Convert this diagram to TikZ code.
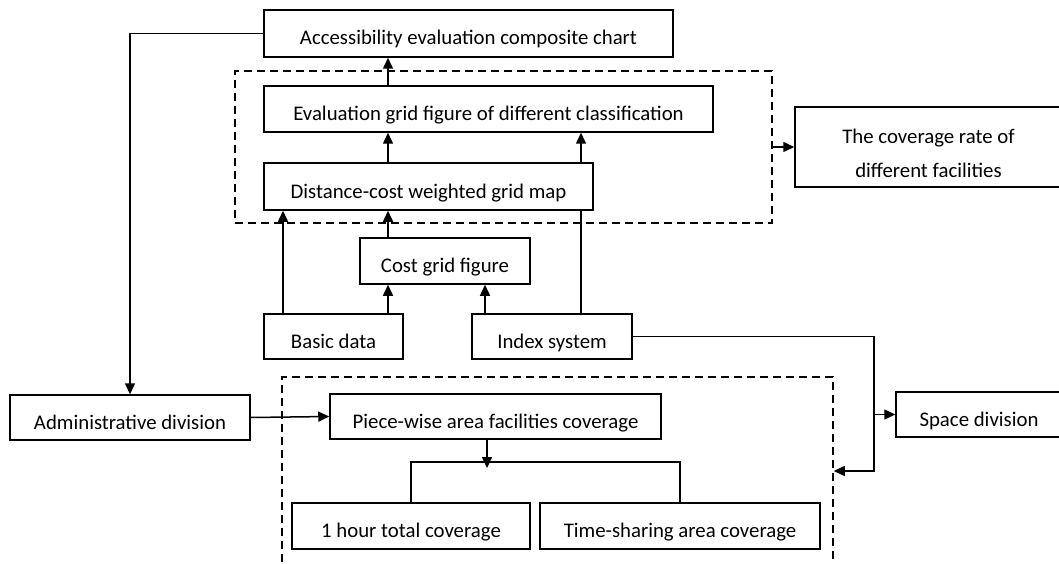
\documentclass[tikz,border=0pt]{standalone}
\usepackage{fontspec}
\setmainfont{Carlito}
\usetikzlibrary{arrows.meta}

\begin{document}
\begin{tikzpicture}[x=1pt,y=-1pt,->,>={Triangle[length=11pt,width=10pt]},line width=1.5pt,
    main box/.style={draw,rectangle,fill=white,inner sep=0pt,font=\fontsize{20.8}{25}\selectfont},
    one line/.style={main box,text height=24pt,text depth=1pt},
    group box/.style={draw,rectangle,dash pattern=on 8pt off 5pt,inner sep=0pt}]
    \useasboundingbox (0,0) rectangle (1059,564);

    % dashed groups
    \node[group box,minimum width=537pt,minimum height=152pt] (grpA) at (503.5,147) {};
    \node[group box,minimum width=551pt,minimum height=203pt] (grpB) at (557.5,478.5) {};

    \node[one line,minimum width=409pt,minimum height=47pt] (acc) at (468.5,33.5) {Accessibility evaluation composite chart};
    \node[one line,minimum width=449pt,minimum height=46pt] (eval) at (488.5,109) {Evaluation grid figure of different classification};
    \node[one line,minimum width=329pt,minimum height=47pt] (dist) at (428.5,186.5) {Distance-cost weighted grid map};
    \node[main box,align=center,font=\fontsize{20.8}{34}\selectfont,minimum width=267pt,minimum height=80pt] (cov) at (928.5,147) {\rule{0pt}{28pt}The coverage rate of\\different facilities};
    \node[one line,minimum width=170pt,minimum height=46pt] (cost) at (445,261) {Cost grid figure};
    \node[one line,minimum width=139pt,minimum height=45pt] (basic) at (333.5,336.5) {Basic data};
    \node[one line,minimum width=160pt,minimum height=45pt] (idx) at (552,336.5) {Index system};
    \node[one line,minimum width=240pt,minimum height=45pt] (admin) at (130,417.5) {Administrative division};
    \node[one line,minimum width=166pt,minimum height=45pt] (space) at (979,414.5) {Space division};
    \node[one line,minimum width=331pt,minimum height=45pt] (piece) at (495.5,416.5) {Piece-wise area facilities coverage};
    \node[one line,minimum width=238pt,minimum height=46pt] (hour) at (411,526) {1 hour total coverage};
    \node[one line,minimum width=280pt,minimum height=46pt] (time) at (680,526) {Time-sharing area coverage};

    \coordinate (colA) at (283,0);
    \coordinate (colB) at (388,0);
    \coordinate (colC) at (485,0);
    \coordinate (colD) at (581,0);
    \coordinate (turn) at (874,471);
    \coordinate (bar) at (487,462);
    \coordinate (tip) at (487,468);

    \draw (acc.west) -| (admin.north);
    \draw (eval.north -| colB) -- (acc.south -| colB);
    \draw (dist.north -| colB) -- (eval.south -| colB);
    \draw[-] (idx.north -| colD) -- (dist.south -| colD);
    \draw (dist.north -| colD) -- (eval.south -| colD);
    \draw (basic.north -| colA) -- (dist.south -| colA);
    \draw (basic.north -| colB) -- (cost.south -| colB);
    \draw (cost.north -| colB) -- (dist.south -| colB);
    \draw (idx.north -| colC) -- (cost.south -| colC);
    \draw (grpA.east) -- (cov.west);
    \draw (idx.east) -| (turn) -- (turn -| grpB.east);
    \draw (space.west -| turn) -- (space.west);
    \draw (admin.east) -- (piece.west);
    \draw (piece.south -| tip) -- (tip);
    \draw[-] (hour.north) |- (bar) -| (time.north);
\end{tikzpicture}
\end{document}
